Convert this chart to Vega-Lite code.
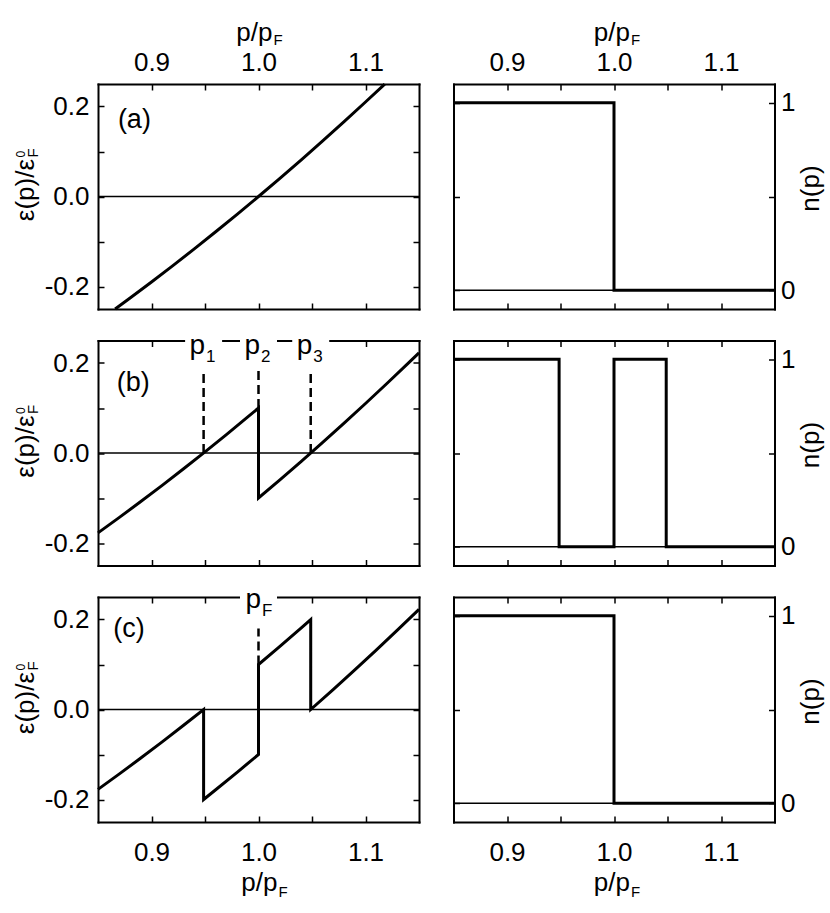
{
  "$schema": "https://vega.github.io/schema/vega-lite/v6.json",
  "padding": {"left": 13, "top": 20, "right": 5, "bottom": 5},
  "background": "white",
  "config": {
    "view": {"stroke": null},
    "axis": {"domainColor": "black", "domainWidth": 2, "domainCap": "square", "tickColor": "black", "tickWidth": 1.5, "tickSize": -6, "labelFont": "Liberation Sans", "labelFontSize": 26, "labelColor": "black", "grid": false, "labelOverlap": false, "labelFlush": false},
    "text": {"font": "Liberation Sans", "color": "black"}
  },
  "datasets": {
    "eps": [
      {"panel": "a", "i": 0, "p": 0.866, "v": -0.25},
      {"panel": "a", "i": 1, "p": 0.88, "v": -0.2256},
      {"panel": "a", "i": 2, "p": 0.90, "v": -0.19},
      {"panel": "a", "i": 3, "p": 0.92, "v": -0.1536},
      {"panel": "a", "i": 4, "p": 0.94, "v": -0.1164},
      {"panel": "a", "i": 5, "p": 0.96, "v": -0.0784},
      {"panel": "a", "i": 6, "p": 0.98, "v": -0.0396},
      {"panel": "a", "i": 7, "p": 1.00, "v": 0},
      {"panel": "a", "i": 8, "p": 1.02, "v": 0.0404},
      {"panel": "a", "i": 9, "p": 1.04, "v": 0.0816},
      {"panel": "a", "i": 10, "p": 1.06, "v": 0.1236},
      {"panel": "a", "i": 11, "p": 1.08, "v": 0.1664},
      {"panel": "a", "i": 12, "p": 1.10, "v": 0.21},
      {"panel": "a", "i": 13, "p": 1.118, "v": 0.2499},
      {"panel": "b", "i": 0, "p": 0.85, "v": -0.1775},
      {"panel": "b", "i": 1, "p": 0.87, "v": -0.1431},
      {"panel": "b", "i": 2, "p": 0.89, "v": -0.1079},
      {"panel": "b", "i": 3, "p": 0.91, "v": -0.0719},
      {"panel": "b", "i": 4, "p": 0.93, "v": -0.0351},
      {"panel": "b", "i": 5, "p": 0.95, "v": 0.0025},
      {"panel": "b", "i": 6, "p": 0.97, "v": 0.0409},
      {"panel": "b", "i": 7, "p": 0.99, "v": 0.0801},
      {"panel": "b", "i": 8, "p": 1.00, "v": 0.1},
      {"panel": "b", "i": 9, "p": 1.00, "v": -0.1},
      {"panel": "b", "i": 10, "p": 1.02, "v": -0.0596},
      {"panel": "b", "i": 11, "p": 1.04, "v": -0.0184},
      {"panel": "b", "i": 12, "p": 1.06, "v": 0.0236},
      {"panel": "b", "i": 13, "p": 1.08, "v": 0.0664},
      {"panel": "b", "i": 14, "p": 1.10, "v": 0.11},
      {"panel": "b", "i": 15, "p": 1.12, "v": 0.1544},
      {"panel": "b", "i": 16, "p": 1.14, "v": 0.1996},
      {"panel": "b", "i": 17, "p": 1.15, "v": 0.2225},
      {"panel": "c", "i": 0, "p": 0.85, "v": -0.1775},
      {"panel": "c", "i": 1, "p": 0.87, "v": -0.1431},
      {"panel": "c", "i": 2, "p": 0.89, "v": -0.1079},
      {"panel": "c", "i": 3, "p": 0.91, "v": -0.0719},
      {"panel": "c", "i": 4, "p": 0.93, "v": -0.0351},
      {"panel": "c", "i": 5, "p": 0.9487, "v": 0},
      {"panel": "c", "i": 6, "p": 0.9487, "v": -0.2},
      {"panel": "c", "i": 7, "p": 0.96, "v": -0.1784},
      {"panel": "c", "i": 8, "p": 0.98, "v": -0.1396},
      {"panel": "c", "i": 9, "p": 1.00, "v": -0.1},
      {"panel": "c", "i": 10, "p": 1.00, "v": 0.1},
      {"panel": "c", "i": 11, "p": 1.02, "v": 0.1404},
      {"panel": "c", "i": 12, "p": 1.04, "v": 0.1816},
      {"panel": "c", "i": 13, "p": 1.0488, "v": 0.2},
      {"panel": "c", "i": 14, "p": 1.0488, "v": 0},
      {"panel": "c", "i": 15, "p": 1.07, "v": 0.0449},
      {"panel": "c", "i": 16, "p": 1.09, "v": 0.0881},
      {"panel": "c", "i": 17, "p": 1.11, "v": 0.1321},
      {"panel": "c", "i": 18, "p": 1.13, "v": 0.1769},
      {"panel": "c", "i": 19, "p": 1.15, "v": 0.2225}
    ],
    "occ": [
      {"panel": "a", "i": 0, "p": 0.85, "v": 1},
      {"panel": "a", "i": 1, "p": 1.0, "v": 1},
      {"panel": "a", "i": 2, "p": 1.0, "v": 0},
      {"panel": "a", "i": 3, "p": 1.15, "v": 0},
      {"panel": "b", "i": 0, "p": 0.85, "v": 1},
      {"panel": "b", "i": 1, "p": 0.9487, "v": 1},
      {"panel": "b", "i": 2, "p": 0.9487, "v": 0},
      {"panel": "b", "i": 3, "p": 1.0, "v": 0},
      {"panel": "b", "i": 4, "p": 1.0, "v": 1},
      {"panel": "b", "i": 5, "p": 1.0488, "v": 1},
      {"panel": "b", "i": 6, "p": 1.0488, "v": 0},
      {"panel": "b", "i": 7, "p": 1.15, "v": 0},
      {"panel": "c", "i": 0, "p": 0.85, "v": 1},
      {"panel": "c", "i": 1, "p": 1.0, "v": 1},
      {"panel": "c", "i": 2, "p": 1.0, "v": 0},
      {"panel": "c", "i": 3, "p": 1.15, "v": 0}
    ],
    "dash": [
      {"panel": "b", "p": 0.9487, "v": 0, "v2": 0.185},
      {"panel": "b", "p": 1.0, "v": 0.1, "v2": 0.185},
      {"panel": "b", "p": 1.0488, "v": 0, "v2": 0.185},
      {"panel": "c", "p": 1.0, "v": 0.1, "v2": 0.18}
    ],
    "plab": [
      {"panel": "b", "p": 0.9487, "t": "p", "s": "1"},
      {"panel": "b", "p": 1.0, "t": "p", "s": "2"},
      {"panel": "b", "p": 1.0488, "t": "p", "s": "3"},
      {"panel": "c", "p": 1.0, "t": "p", "s": "F"}
    ],
    "plabel": [
      {"panel": "a", "p": 0.884, "v": 0.17, "t": "(a)"},
      {"panel": "b", "p": 0.883, "v": 0.156, "t": "(b)"},
      {"panel": "c", "p": 0.879, "v": 0.18, "t": "(c)"}
    ]
  },
  "columns": 2,
  "bounds": "flush",
  "spacing": {"row": 31.5, "column": 34.5},
  "concat": [
    {
      "width": 321, "height": 225,
      "layer": [
        {"data": {"values": [{"p": 0.85, "p2": 1.15, "v": 0}]},
         "mark": {"type": "rule", "strokeWidth": 1.5, "color": "black"},
         "encoding": {
           "x": {"field": "p", "type": "quantitative", "scale": {"domain": [0.85, 1.15], "nice": false, "zero": false}, "axis": {"orient": "bottom", "title": null, "values": [0.9, 0.95, 1, 1.05, 1.1], "labels": false}},
           "x2": {"field": "p2"},
           "y": {"field": "v", "type": "quantitative", "scale": {"domain": [-0.25, 0.25], "nice": false, "zero": false}, "axis": {"orient": "left", "title": null, "values": [-0.2, -0.1, 0, 0.1, 0.2], "labelPadding": 15, "labelExpr": "datum.value == 0.2 ? '0.2' : datum.value == 0 ? '0.0' : datum.value == -0.2 ? '-0.2' : ''"}}}},
        {"data": {"name": "eps"}, "transform": [{"filter": "datum.panel == 'a'"}],
         "mark": {"type": "line", "strokeWidth": 3, "color": "black"},
         "encoding": {
           "x": {"field": "p", "type": "quantitative", "scale": {"domain": [0.85, 1.15], "nice": false, "zero": false}, "axis": {"orient": "top", "title": null, "values": [0.9, 0.95, 1, 1.05, 1.1], "labelPadding": 15, "labelExpr": "datum.value == 0.9 ? '0.9' : datum.value == 1 ? '1.0' : datum.value == 1.1 ? '1.1' : ''"}},
           "y": {"field": "v", "type": "quantitative", "scale": {"domain": [-0.25, 0.25], "nice": false, "zero": false}, "axis": {"orient": "right", "title": null, "values": [-0.2, -0.1, 0, 0.1, 0.2], "labels": false}},
           "order": {"field": "i", "type": "quantitative"}}},
        {"data": {"name": "plabel"}, "transform": [{"filter": "datum.panel == 'a'"}],
         "mark": {"type": "text", "fontSize": 27, "align": "center", "baseline": "middle"},
         "encoding": {
           "x": {"field": "p", "type": "quantitative", "scale": {"domain": [0.85, 1.15], "nice": false, "zero": false}, "axis": null},
           "y": {"field": "v", "type": "quantitative", "scale": {"domain": [-0.25, 0.25], "nice": false, "zero": false}, "axis": null},
           "text": {"field": "t"}}},
        {"data": {"values": [{"t": "ε(p)/ε"}]},
         "mark": {"type": "text", "fontSize": 26, "angle": 270, "align": "right", "baseline": "alphabetic", "dx": 37.5, "dy": -64},
         "encoding": {"x": {"datum": 0.85, "type": "quantitative", "axis": null}, "y": {"datum": 0, "type": "quantitative", "axis": null}, "text": {"field": "t"}}},
        {"data": {"values": [{"t": "0"}]},
         "mark": {"type": "text", "fontSize": 12, "angle": 270, "align": "left", "baseline": "alphabetic", "dx": 39, "dy": -73},
         "encoding": {"x": {"datum": 0.85, "type": "quantitative", "axis": null}, "y": {"datum": 0, "type": "quantitative", "axis": null}, "text": {"field": "t"}}},
        {"data": {"values": [{"t": "F"}]},
         "mark": {"type": "text", "fontSize": 15, "angle": 270, "align": "left", "baseline": "alphabetic", "dx": 39, "dy": -60},
         "encoding": {"x": {"datum": 0.85, "type": "quantitative", "axis": null}, "y": {"datum": 0, "type": "quantitative", "axis": null}, "text": {"field": "t"}}},
        {"data": {"values": [{"t": "p/p"}]},
         "mark": {"type": "text", "fontSize": 26, "align": "right", "baseline": "alphabetic", "dx": 14, "dy": -43},
         "encoding": {"x": {"datum": 1.0, "type": "quantitative", "axis": null}, "y": {"datum": 0.25, "type": "quantitative", "axis": null}, "text": {"field": "t"}}},
        {"data": {"values": [{"t": "F"}]},
         "mark": {"type": "text", "fontSize": 15, "align": "left", "baseline": "alphabetic", "dx": 15, "dy": -39},
         "encoding": {"x": {"datum": 1.0, "type": "quantitative", "axis": null}, "y": {"datum": 0.25, "type": "quantitative", "axis": null}, "text": {"field": "t"}}}
      ],
      "resolve": {"axis": {"x": "independent", "y": "independent"}}
    },
    {
      "width": 321, "height": 225,
      "layer": [
        {"data": {"values": [{"p": 0.85, "p2": 1.15, "v": 0}]},
         "mark": {"type": "rule", "strokeWidth": 1.5, "color": "black"},
         "encoding": {
           "x": {"field": "p", "type": "quantitative", "scale": {"domain": [0.85, 1.15], "nice": false, "zero": false}, "axis": {"orient": "bottom", "title": null, "values": [0.9, 0.95, 1, 1.05, 1.1], "labels": false}},
           "x2": {"field": "p2"},
           "y": {"field": "v", "type": "quantitative", "scale": {"domain": [-0.1, 1.1], "nice": false, "zero": false}, "axis": {"orient": "left", "title": null, "values": [0, 0.5, 1], "labels": false}}}},
        {"data": {"name": "occ"}, "transform": [{"filter": "datum.panel == 'a'"}],
         "mark": {"type": "line", "strokeWidth": 3, "color": "black"},
         "encoding": {
           "x": {"field": "p", "type": "quantitative", "scale": {"domain": [0.85, 1.15], "nice": false, "zero": false}, "axis": {"orient": "top", "title": null, "values": [0.9, 0.95, 1, 1.05, 1.1], "labelPadding": 15, "labelExpr": "datum.value == 0.9 ? '0.9' : datum.value == 1 ? '1.0' : datum.value == 1.1 ? '1.1' : ''"}},
           "y": {"field": "v", "type": "quantitative", "scale": {"domain": [-0.1, 1.1], "nice": false, "zero": false}, "axis": {"orient": "right", "title": null, "values": [0, 0.5, 1], "labelPadding": 12, "labelExpr": "datum.value == 1 ? '1' : datum.value == 0 ? '0' : ''"}},
           "order": {"field": "i", "type": "quantitative"}}},
        {"data": {"values": [{"t": "n(p)"}]},
         "mark": {"type": "text", "fontSize": 26, "angle": 270, "align": "center", "baseline": "alphabetic", "dx": 8, "dy": 44},
         "encoding": {"x": {"datum": 1.15, "type": "quantitative", "axis": null}, "y": {"datum": 0.5, "type": "quantitative", "axis": null}, "text": {"field": "t"}}},
        {"data": {"values": [{"t": "p/p"}]},
         "mark": {"type": "text", "fontSize": 26, "align": "right", "baseline": "alphabetic", "dx": 16, "dy": -43},
         "encoding": {"x": {"datum": 1.0, "type": "quantitative", "axis": null}, "y": {"datum": 1.1, "type": "quantitative", "axis": null}, "text": {"field": "t"}}},
        {"data": {"values": [{"t": "F"}]},
         "mark": {"type": "text", "fontSize": 15, "align": "left", "baseline": "alphabetic", "dx": 17, "dy": -39},
         "encoding": {"x": {"datum": 1.0, "type": "quantitative", "axis": null}, "y": {"datum": 1.1, "type": "quantitative", "axis": null}, "text": {"field": "t"}}}
      ],
      "resolve": {"axis": {"x": "independent", "y": "independent"}}
    },
    {
      "width": 321, "height": 225,
      "layer": [
        {"data": {"values": [{"p": 0.85, "p2": 1.15, "v": 0}]},
         "mark": {"type": "rule", "strokeWidth": 1.5, "color": "black"},
         "encoding": {
           "x": {"field": "p", "type": "quantitative", "scale": {"domain": [0.85, 1.15], "nice": false, "zero": false}, "axis": {"orient": "bottom", "title": null, "values": [0.9, 0.95, 1, 1.05, 1.1], "labels": false}},
           "x2": {"field": "p2"},
           "y": {"field": "v", "type": "quantitative", "scale": {"domain": [-0.25, 0.25], "nice": false, "zero": false}, "axis": {"orient": "left", "title": null, "values": [-0.2, -0.1, 0, 0.1, 0.2], "labelPadding": 15, "labelExpr": "datum.value == 0.2 ? '0.2' : datum.value == 0 ? '0.0' : datum.value == -0.2 ? '-0.2' : ''"}}}},
        {"data": {"name": "eps"}, "transform": [{"filter": "datum.panel == 'b'"}],
         "mark": {"type": "line", "strokeWidth": 3, "color": "black"},
         "encoding": {
           "x": {"field": "p", "type": "quantitative", "scale": {"domain": [0.85, 1.15], "nice": false, "zero": false}, "axis": {"orient": "top", "title": null, "values": [0.9, 0.95, 1, 1.05, 1.1], "labels": false}},
           "y": {"field": "v", "type": "quantitative", "scale": {"domain": [-0.25, 0.25], "nice": false, "zero": false}, "axis": {"orient": "right", "title": null, "values": [-0.2, -0.1, 0, 0.1, 0.2], "labels": false}},
           "order": {"field": "i", "type": "quantitative"}}},
        {"data": {"name": "dash"}, "transform": [{"filter": "datum.panel == 'b'"}],
         "mark": {"type": "rule", "strokeWidth": 2.5, "strokeDash": [9, 5], "color": "black"},
         "encoding": {
           "x": {"field": "p", "type": "quantitative", "scale": {"domain": [0.85, 1.15], "nice": false, "zero": false}, "axis": null},
           "y": {"field": "v", "type": "quantitative", "scale": {"domain": [-0.25, 0.25], "nice": false, "zero": false}, "axis": null},
           "y2": {"field": "v2"}}},
        {"data": {"name": "plab"}, "transform": [{"filter": "datum.panel == 'b'"}],
         "mark": {"type": "point", "shape": "square", "size": 1369, "filled": true, "color": "white", "opacity": 1, "strokeWidth": 0},
         "encoding": {
           "x": {"field": "p", "type": "quantitative", "scale": {"domain": [0.85, 1.15], "nice": false, "zero": false}, "axis": null},
           "y": {"datum": 0.25, "type": "quantitative", "axis": null}}},
        {"data": {"name": "plab"}, "transform": [{"filter": "datum.panel == 'b'"}],
         "mark": {"type": "text", "fontSize": 28, "align": "right", "baseline": "alphabetic", "dx": 1.5, "dy": 13},
         "encoding": {
           "x": {"field": "p", "type": "quantitative", "scale": {"domain": [0.85, 1.15], "nice": false, "zero": false}, "axis": null},
           "y": {"datum": 0.25, "type": "quantitative", "axis": null},
           "text": {"field": "t"}}},
        {"data": {"name": "plab"}, "transform": [{"filter": "datum.panel == 'b'"}],
         "mark": {"type": "text", "fontSize": 17, "align": "left", "baseline": "alphabetic", "dx": 2.5, "dy": 21},
         "encoding": {
           "x": {"field": "p", "type": "quantitative", "scale": {"domain": [0.85, 1.15], "nice": false, "zero": false}, "axis": null},
           "y": {"datum": 0.25, "type": "quantitative", "axis": null},
           "text": {"field": "s"}}},
        {"data": {"name": "plabel"}, "transform": [{"filter": "datum.panel == 'b'"}],
         "mark": {"type": "text", "fontSize": 27, "align": "center", "baseline": "middle"},
         "encoding": {
           "x": {"field": "p", "type": "quantitative", "scale": {"domain": [0.85, 1.15], "nice": false, "zero": false}, "axis": null},
           "y": {"field": "v", "type": "quantitative", "scale": {"domain": [-0.25, 0.25], "nice": false, "zero": false}, "axis": null},
           "text": {"field": "t"}}},
        {"data": {"values": [{"t": "ε(p)/ε"}]},
         "mark": {"type": "text", "fontSize": 26, "angle": 270, "align": "right", "baseline": "alphabetic", "dx": 37.5, "dy": -64},
         "encoding": {"x": {"datum": 0.85, "type": "quantitative", "axis": null}, "y": {"datum": 0, "type": "quantitative", "axis": null}, "text": {"field": "t"}}},
        {"data": {"values": [{"t": "0"}]},
         "mark": {"type": "text", "fontSize": 12, "angle": 270, "align": "left", "baseline": "alphabetic", "dx": 39, "dy": -73},
         "encoding": {"x": {"datum": 0.85, "type": "quantitative", "axis": null}, "y": {"datum": 0, "type": "quantitative", "axis": null}, "text": {"field": "t"}}},
        {"data": {"values": [{"t": "F"}]},
         "mark": {"type": "text", "fontSize": 15, "angle": 270, "align": "left", "baseline": "alphabetic", "dx": 39, "dy": -60},
         "encoding": {"x": {"datum": 0.85, "type": "quantitative", "axis": null}, "y": {"datum": 0, "type": "quantitative", "axis": null}, "text": {"field": "t"}}}
      ],
      "resolve": {"axis": {"x": "independent", "y": "independent"}}
    },
    {
      "width": 321, "height": 225,
      "layer": [
        {"data": {"values": [{"p": 0.85, "p2": 1.15, "v": 0}]},
         "mark": {"type": "rule", "strokeWidth": 1.5, "color": "black"},
         "encoding": {
           "x": {"field": "p", "type": "quantitative", "scale": {"domain": [0.85, 1.15], "nice": false, "zero": false}, "axis": {"orient": "bottom", "title": null, "values": [0.9, 0.95, 1, 1.05, 1.1], "labels": false}},
           "x2": {"field": "p2"},
           "y": {"field": "v", "type": "quantitative", "scale": {"domain": [-0.1, 1.1], "nice": false, "zero": false}, "axis": {"orient": "left", "title": null, "values": [0, 0.5, 1], "labels": false}}}},
        {"data": {"name": "occ"}, "transform": [{"filter": "datum.panel == 'b'"}],
         "mark": {"type": "line", "strokeWidth": 3, "color": "black"},
         "encoding": {
           "x": {"field": "p", "type": "quantitative", "scale": {"domain": [0.85, 1.15], "nice": false, "zero": false}, "axis": {"orient": "top", "title": null, "values": [0.9, 0.95, 1, 1.05, 1.1], "labels": false}},
           "y": {"field": "v", "type": "quantitative", "scale": {"domain": [-0.1, 1.1], "nice": false, "zero": false}, "axis": {"orient": "right", "title": null, "values": [0, 0.5, 1], "labelPadding": 12, "labelExpr": "datum.value == 1 ? '1' : datum.value == 0 ? '0' : ''"}},
           "order": {"field": "i", "type": "quantitative"}}},
        {"data": {"values": [{"t": "n(p)"}]},
         "mark": {"type": "text", "fontSize": 26, "angle": 270, "align": "center", "baseline": "alphabetic", "dx": 8, "dy": 44},
         "encoding": {"x": {"datum": 1.15, "type": "quantitative", "axis": null}, "y": {"datum": 0.5, "type": "quantitative", "axis": null}, "text": {"field": "t"}}}
      ],
      "resolve": {"axis": {"x": "independent", "y": "independent"}}
    },
    {
      "width": 321, "height": 225,
      "layer": [
        {"data": {"values": [{"p": 0.85, "p2": 1.15, "v": 0}]},
         "mark": {"type": "rule", "strokeWidth": 1.5, "color": "black"},
         "encoding": {
           "x": {"field": "p", "type": "quantitative", "scale": {"domain": [0.85, 1.15], "nice": false, "zero": false}, "axis": {"orient": "bottom", "title": null, "values": [0.9, 0.95, 1, 1.05, 1.1], "labelPadding": 23, "labelExpr": "datum.value == 0.9 ? '0.9' : datum.value == 1 ? '1.0' : datum.value == 1.1 ? '1.1' : ''"}},
           "x2": {"field": "p2"},
           "y": {"field": "v", "type": "quantitative", "scale": {"domain": [-0.25, 0.25], "nice": false, "zero": false}, "axis": {"orient": "left", "title": null, "values": [-0.2, -0.1, 0, 0.1, 0.2], "labelPadding": 15, "labelExpr": "datum.value == 0.2 ? '0.2' : datum.value == 0 ? '0.0' : datum.value == -0.2 ? '-0.2' : ''"}}}},
        {"data": {"name": "eps"}, "transform": [{"filter": "datum.panel == 'c'"}],
         "mark": {"type": "line", "strokeWidth": 3, "color": "black"},
         "encoding": {
           "x": {"field": "p", "type": "quantitative", "scale": {"domain": [0.85, 1.15], "nice": false, "zero": false}, "axis": {"orient": "top", "title": null, "values": [0.9, 0.95, 1, 1.05, 1.1], "labels": false}},
           "y": {"field": "v", "type": "quantitative", "scale": {"domain": [-0.25, 0.25], "nice": false, "zero": false}, "axis": {"orient": "right", "title": null, "values": [-0.2, -0.1, 0, 0.1, 0.2], "labels": false}},
           "order": {"field": "i", "type": "quantitative"}}},
        {"data": {"name": "dash"}, "transform": [{"filter": "datum.panel == 'c'"}],
         "mark": {"type": "rule", "strokeWidth": 2.5, "strokeDash": [9, 5], "color": "black"},
         "encoding": {
           "x": {"field": "p", "type": "quantitative", "scale": {"domain": [0.85, 1.15], "nice": false, "zero": false}, "axis": null},
           "y": {"field": "v", "type": "quantitative", "scale": {"domain": [-0.25, 0.25], "nice": false, "zero": false}, "axis": null},
           "y2": {"field": "v2"}}},
        {"data": {"name": "plab"}, "transform": [{"filter": "datum.panel == 'c'"}],
         "mark": {"type": "point", "shape": "square", "size": 1369, "filled": true, "color": "white", "opacity": 1, "strokeWidth": 0},
         "encoding": {
           "x": {"field": "p", "type": "quantitative", "scale": {"domain": [0.85, 1.15], "nice": false, "zero": false}, "axis": null},
           "y": {"datum": 0.25, "type": "quantitative", "axis": null}}},
        {"data": {"name": "plab"}, "transform": [{"filter": "datum.panel == 'c'"}],
         "mark": {"type": "text", "fontSize": 28, "align": "right", "baseline": "alphabetic", "dx": 2.5, "dy": 11},
         "encoding": {
           "x": {"field": "p", "type": "quantitative", "scale": {"domain": [0.85, 1.15], "nice": false, "zero": false}, "axis": null},
           "y": {"datum": 0.25, "type": "quantitative", "axis": null},
           "text": {"field": "t"}}},
        {"data": {"name": "plab"}, "transform": [{"filter": "datum.panel == 'c'"}],
         "mark": {"type": "text", "fontSize": 17, "align": "left", "baseline": "alphabetic", "dx": 3.5, "dy": 19},
         "encoding": {
           "x": {"field": "p", "type": "quantitative", "scale": {"domain": [0.85, 1.15], "nice": false, "zero": false}, "axis": null},
           "y": {"datum": 0.25, "type": "quantitative", "axis": null},
           "text": {"field": "s"}}},
        {"data": {"name": "plabel"}, "transform": [{"filter": "datum.panel == 'c'"}],
         "mark": {"type": "text", "fontSize": 27, "align": "center", "baseline": "middle"},
         "encoding": {
           "x": {"field": "p", "type": "quantitative", "scale": {"domain": [0.85, 1.15], "nice": false, "zero": false}, "axis": null},
           "y": {"field": "v", "type": "quantitative", "scale": {"domain": [-0.25, 0.25], "nice": false, "zero": false}, "axis": null},
           "text": {"field": "t"}}},
        {"data": {"values": [{"t": "ε(p)/ε"}]},
         "mark": {"type": "text", "fontSize": 26, "angle": 270, "align": "right", "baseline": "alphabetic", "dx": 37.5, "dy": -64},
         "encoding": {"x": {"datum": 0.85, "type": "quantitative", "axis": null}, "y": {"datum": 0, "type": "quantitative", "axis": null}, "text": {"field": "t"}}},
        {"data": {"values": [{"t": "0"}]},
         "mark": {"type": "text", "fontSize": 12, "angle": 270, "align": "left", "baseline": "alphabetic", "dx": 39, "dy": -73},
         "encoding": {"x": {"datum": 0.85, "type": "quantitative", "axis": null}, "y": {"datum": 0, "type": "quantitative", "axis": null}, "text": {"field": "t"}}},
        {"data": {"values": [{"t": "F"}]},
         "mark": {"type": "text", "fontSize": 15, "angle": 270, "align": "left", "baseline": "alphabetic", "dx": 39, "dy": -60},
         "encoding": {"x": {"datum": 0.85, "type": "quantitative", "axis": null}, "y": {"datum": 0, "type": "quantitative", "axis": null}, "text": {"field": "t"}}},
        {"data": {"values": [{"t": "p/p"}]},
         "mark": {"type": "text", "fontSize": 26, "align": "right", "baseline": "alphabetic", "dx": 19, "dy": 69},
         "encoding": {"x": {"datum": 1.0, "type": "quantitative", "axis": null}, "y": {"datum": -0.25, "type": "quantitative", "axis": null}, "text": {"field": "t"}}},
        {"data": {"values": [{"t": "F"}]},
         "mark": {"type": "text", "fontSize": 15, "align": "left", "baseline": "alphabetic", "dx": 20, "dy": 75},
         "encoding": {"x": {"datum": 1.0, "type": "quantitative", "axis": null}, "y": {"datum": -0.25, "type": "quantitative", "axis": null}, "text": {"field": "t"}}}
      ],
      "resolve": {"axis": {"x": "independent", "y": "independent"}}
    },
    {
      "width": 321, "height": 225,
      "layer": [
        {"data": {"values": [{"p": 0.85, "p2": 1.15, "v": 0}]},
         "mark": {"type": "rule", "strokeWidth": 1.5, "color": "black"},
         "encoding": {
           "x": {"field": "p", "type": "quantitative", "scale": {"domain": [0.85, 1.15], "nice": false, "zero": false}, "axis": {"orient": "bottom", "title": null, "values": [0.9, 0.95, 1, 1.05, 1.1], "labelPadding": 23, "labelExpr": "datum.value == 0.9 ? '0.9' : datum.value == 1 ? '1.0' : datum.value == 1.1 ? '1.1' : ''"}},
           "x2": {"field": "p2"},
           "y": {"field": "v", "type": "quantitative", "scale": {"domain": [-0.1, 1.1], "nice": false, "zero": false}, "axis": {"orient": "left", "title": null, "values": [0, 0.5, 1], "labels": false}}}},
        {"data": {"name": "occ"}, "transform": [{"filter": "datum.panel == 'c'"}],
         "mark": {"type": "line", "strokeWidth": 3, "color": "black"},
         "encoding": {
           "x": {"field": "p", "type": "quantitative", "scale": {"domain": [0.85, 1.15], "nice": false, "zero": false}, "axis": {"orient": "top", "title": null, "values": [0.9, 0.95, 1, 1.05, 1.1], "labels": false}},
           "y": {"field": "v", "type": "quantitative", "scale": {"domain": [-0.1, 1.1], "nice": false, "zero": false}, "axis": {"orient": "right", "title": null, "values": [0, 0.5, 1], "labelPadding": 12, "labelExpr": "datum.value == 1 ? '1' : datum.value == 0 ? '0' : ''"}},
           "order": {"field": "i", "type": "quantitative"}}},
        {"data": {"values": [{"t": "n(p)"}]},
         "mark": {"type": "text", "fontSize": 26, "angle": 270, "align": "center", "baseline": "alphabetic", "dx": 8, "dy": 44},
         "encoding": {"x": {"datum": 1.15, "type": "quantitative", "axis": null}, "y": {"datum": 0.5, "type": "quantitative", "axis": null}, "text": {"field": "t"}}},
        {"data": {"values": [{"t": "p/p"}]},
         "mark": {"type": "text", "fontSize": 26, "align": "right", "baseline": "alphabetic", "dx": 16, "dy": 69},
         "encoding": {"x": {"datum": 1.0, "type": "quantitative", "axis": null}, "y": {"datum": -0.1, "type": "quantitative", "axis": null}, "text": {"field": "t"}}},
        {"data": {"values": [{"t": "F"}]},
         "mark": {"type": "text", "fontSize": 15, "align": "left", "baseline": "alphabetic", "dx": 17, "dy": 75},
         "encoding": {"x": {"datum": 1.0, "type": "quantitative", "axis": null}, "y": {"datum": -0.1, "type": "quantitative", "axis": null}, "text": {"field": "t"}}}
      ],
      "resolve": {"axis": {"x": "independent", "y": "independent"}}
    }
  ]
}
